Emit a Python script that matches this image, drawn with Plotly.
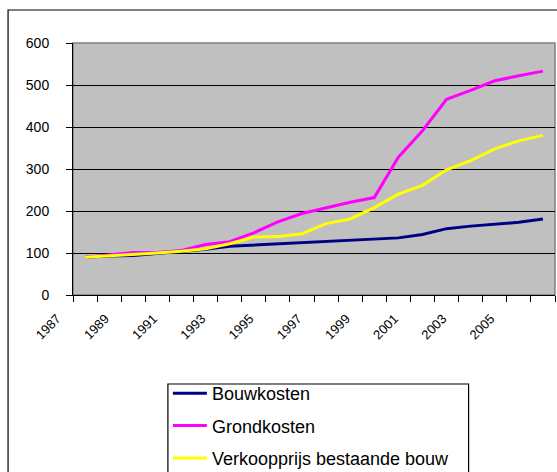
import plotly.graph_objects as go

years = list(range(1987, 2007))
bouwkosten = [90, 93, 94, 99, 104, 109, 116, 119, 122, 124, 127, 130, 133, 136, 144, 158, 164, 168, 173, 181]
grondkosten = [90, 95, 101, 101, 106, 120, 127, 148, 174, 194, 207, 221, 232, 328, 391, 466, 487, 510, 522, 533]
verkoopprijs = [90, 93, 96, 100, 104, 110, 122, 138, 139, 146, 170, 181, 208, 240, 261, 298, 320, 348, 367, 380]

series_names = ["Bouwkosten", "Grondkosten", "Verkoopprijs bestaande bouw"]
series_colors = ["#000080", "#FF00FF", "#FFFF00"]
y_ticks = [0, 100, 200, 300, 400, 500, 600]

W, H = 557, 472
L, R, T, B = 73, 1.5, 43, 177
pw = W - L - R
ph = H - T - B


def px_x(x):
    return (x - L) / pw


def px_y(y):
    return (T + ph - y) / ph


fig = go.Figure()
for name, vals, col in zip(series_names, [bouwkosten, grondkosten, verkoopprijs], series_colors):
    fig.add_trace(go.Scatter(x=years, y=vals, mode="lines", name=name,
                             legendgroup=name,
                             line=dict(color=col, width=3)))

font_family = "Liberation Sans, Arial, sans-serif"

fig.update_layout(
    width=W, height=H,
    margin=dict(l=L, r=R, t=T, b=B, autoexpand=False),
    paper_bgcolor="white",
    plot_bgcolor="#C0C0C0",
    font=dict(family=font_family, size=14, color="black"),
    showlegend=True,
    legend=dict(
        x=px_x(168), y=px_y(375),
        xanchor="left", yanchor="top",
        bgcolor="rgba(255,255,255,0)", borderwidth=0,
        font=dict(family=font_family, size=18, color="black"),
        traceorder="grouped", tracegroupgap=6,
        itemwidth=34,
    ),
    xaxis=dict(
        range=[years[0] - 0.5, years[-1] + 0.5],
        tickmode="array",
        tickvals=years[::2],
        ticktext=[str(y) for y in years[::2]],
        tickangle=-45,
        ticks="",
        ticklabelshift=-28,
        ticklabelstandoff=10,
        showgrid=False, zeroline=False,
        showline=True, linecolor="black", linewidth=1,
        minor=dict(tickmode="array", tickvals=[y - 0.5 for y in years] + [years[-1] + 0.5],
                   ticks="outside", ticklen=6, tickcolor="black", tickwidth=1, showgrid=False),
        tickfont=dict(size=13),
        fixedrange=True,
    ),
    yaxis=dict(
        range=[y_ticks[0], y_ticks[-1]],
        tickmode="array", tickvals=y_ticks,
        ticks="outside", ticklen=6, tickcolor="black", tickwidth=1,
        ticklabelstandoff=14,
        showgrid=True, gridcolor="black", gridwidth=1,
        zeroline=False,
        showline=True, linecolor="black", linewidth=1,
        tickfont=dict(size=14),
        fixedrange=True,
    ),
    shapes=[
        dict(type="rect", xref="paper", yref="paper", x0=0, x1=1, y0=0, y1=1,
             line=dict(color="#808080", width=1.5), fillcolor="rgba(0,0,0,0)", layer="below"),
        dict(type="rect", xref="paper", yref="paper",
             x0=px_x(8), x1=1.5, y0=px_y(10), y1=-1.5,
             line=dict(color="black", width=1.2), fillcolor="rgba(0,0,0,0)", layer="above"),
        dict(type="rect", xref="paper", yref="paper",
             x0=px_x(168), x1=px_x(469), y0=px_y(384), y1=-1.5,
             line=dict(color="black", width=1.2), fillcolor="rgba(0,0,0,0)", layer="above"),
    ],
)

fig.write_html("out.html")
